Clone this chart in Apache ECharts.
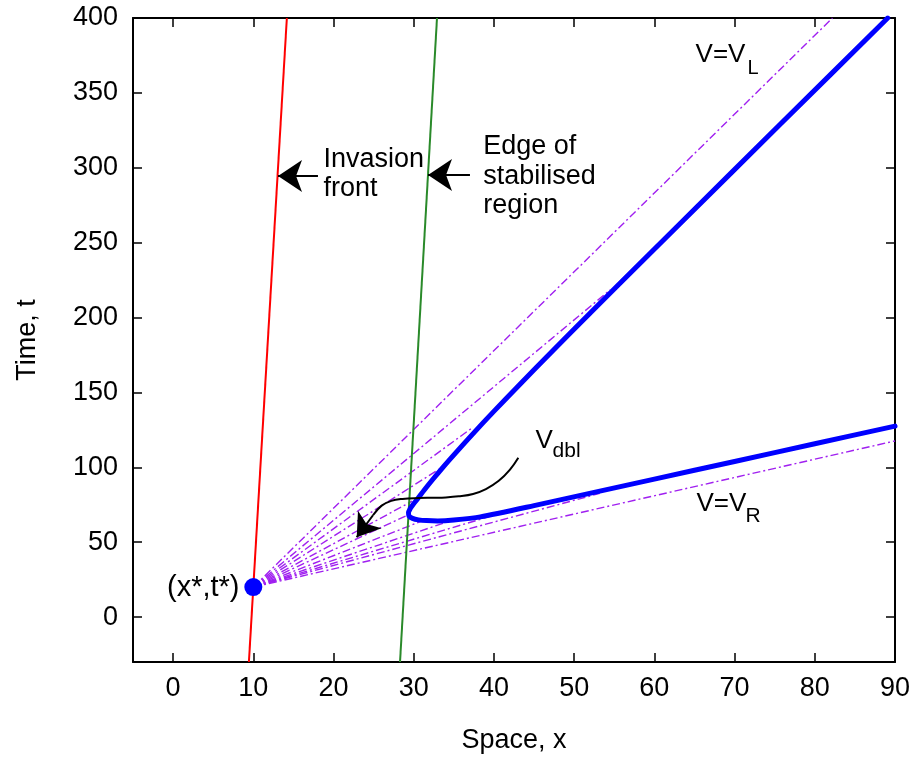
<!DOCTYPE html>
<html><head><meta charset="utf-8">
<script src="https://cdn.jsdelivr.net/npm/echarts@6/dist/echarts.min.js"></script>
<style>html,body{margin:0;padding:0;background:#fff}#c{width:918px;height:760px}</style>
</head><body><div id="c"></div>
<script>
// ---- data ----
const xTicks = [0, 10, 20, 30, 40, 50, 60, 70, 80, 90];
const tTicks = [0, 50, 100, 150, 200, 250, 300, 350, 400];
const starX = [10];
const starT = [20];
const invasionFrontX = [9.45, 14.18];
const invasionFrontT = [-30, 400];
const edgeX = [28.29, 32.9];
const edgeT = [-30, 400];
const curveX = [89.09, 75.88, 63.22, 55.18, 49.58, 44.97, 41.35, 38.69, 36.63, 34.95, 33.64, 32.39, 31.34, 30.49, 29.9, 29.55, 29.35, 29.4, 29.85, 30.6, 31.6, 33, 35, 38.3, 45, 53.2, 60, 70, 80, 90];
const curveT = [400, 330, 262.8, 220, 190, 165, 145, 130, 118, 108, 100, 92, 85, 79, 75, 72.3, 69.8, 67.6, 65.9, 64.9, 64.4, 64.2, 64.8, 66.9, 74.4, 84.1, 92.1, 103.9, 115.7, 127.5];
const fanEndX = [82.2, 54.5, 37.2, 34.0, 29.8, 29.4, 31.0, 35.0, 41.5, 53.2, 90];
const fanEndT = [400, 218.5, 126, 101.6, 77.4, 68.5, 64.1, 65.0, 70.4, 82.6, 117.6];
const vdblCurveX = [43.04, 42.0, 40.6, 39.0, 37.4, 35.6, 34.0, 32.3, 30.6, 28.6, 27.2, 26.0, 24.92];
const vdblCurveT = [106.4, 98.5, 91.0, 85.5, 82.2, 80.6, 79.9, 79.7, 79.5, 78.9, 77.6, 74.4, 68.0];
const vdblHeadX = [24.92, 22.89];
const vdblHeadT = [68.0, 53.3];
const frontArrowX = [18.06, 13.08];
const frontArrowT = [294.5, 294.5];
const edgeArrowX = [37.01, 31.78];
const edgeArrowT = [295.2, 295.2];

// ---- chart ----
const FONT = 'Liberation Sans, Arial, Helvetica, sans-serif';
const zip = (a, b) => a.map((v, i) => [v, b[i]]);
const chart = echarts.init(document.getElementById('c'), null, {renderer: 'canvas'});

const series = [];
fanEndX.forEach((x, i) => {
  series.push({
    type: 'line', data: [[starX[0], starT[0]], [x, fanEndT[i]]],
    symbol: 'none', silent: true, z: 1,
    lineStyle: {color: '#a020f0', width: 1.4, type: [8, 3, 2, 3]}
  });
});
series.push({type: 'line', data: zip(invasionFrontX, invasionFrontT), symbol: 'none', z: 2,
  lineStyle: {color: '#ff0000', width: 2}});
series.push({type: 'line', data: zip(edgeX, edgeT), symbol: 'none', z: 2,
  lineStyle: {color: '#2a8a2a', width: 2}});
series.push({type: 'line', data: zip(curveX, curveT), symbol: 'none', smooth: 0.25, z: 3,
  lineStyle: {color: '#0000ff', width: 5, join: 'round', cap: 'round'}});
series.push({type: 'line', data: zip(vdblCurveX, vdblCurveT), symbol: 'none', smooth: 0.4, z: 4,
  lineStyle: {color: '#000', width: 2}});
series.push({type: 'lines', coordinateSystem: 'cartesian2d', z: 4,
  symbol: ['none', 'arrow'], symbolSize: [15, 22],
  lineStyle: {color: '#000', width: 2, opacity: 1},
  data: [
    {coords: zip(vdblHeadX, vdblHeadT)},
    {coords: zip(frontArrowX, frontArrowT), symbolSize: [15, 24]},
    {coords: zip(edgeArrowX, edgeArrowT), symbolSize: [15, 24]}
  ]});
series.push({type: 'scatter', data: zip(starX, starT), symbolSize: 18, z: 5,
  itemStyle: {color: '#0000ff', opacity: 1}});

const lab = (x, t, text, pos, size, lh) => ({
  value: [x, t],
  label: {show: true, formatter: text, position: pos, distance: 0, fontSize: size,
    lineHeight: lh || Math.round(size * 1.1), color: '#000', fontFamily: FONT, opacity: 1}
});
series.push({type: 'scatter', symbolSize: 1, z: 6, silent: true,
  itemStyle: {color: 'rgba(0,0,0,0)'},
  data: [
    lab(18.68, 295.5, 'Invasion\nfront', 'right', 27, 29),
    lab(38.6, 294.4, 'Edge of\nstabilised\nregion', 'right', 27, 29.5),
    lab(65.07, 375.2, 'V=V', 'right', 26),
    lab(71.55, 366.6, 'L', 'right', 20),
    lab(45.12, 117.6, 'V', 'right', 26),
    lab(47.24, 110.9, 'dbl', 'right', 21),
    lab(65.19, 75.5, 'V=V', 'right', 26),
    lab(71.3, 67.1, 'R', 'right', 21),
    lab(8.34, 19.4, '(x*,t*)', 'left', 29)
  ]});

const tickCommon = {show: true, inside: true, length: 9, lineStyle: {color: '#000', width: 1.5}};
const axLine = {show: true, onZero: false, lineStyle: {color: '#000', width: 2}};

chart.setOption({
  animation: false,
  backgroundColor: '#fff',
  grid: {left: 133, right: 23, top: 18, bottom: 98, containLabel: false},
  xAxis: [
    {type: 'value', min: -5, max: 90, position: 'bottom',
     axisLine: axLine, splitLine: {show: false},
     axisTick: Object.assign({customValues: xTicks}, tickCommon),
     axisLabel: {customValues: xTicks, fontSize: 27, color: '#000', fontFamily: FONT, margin: 13},
     name: 'Space, x', nameLocation: 'middle', nameGap: 65,
     nameTextStyle: {fontSize: 27, color: '#000', fontFamily: FONT}},
    {type: 'value', min: -5, max: 90, position: 'top',
     axisLine: axLine, splitLine: {show: false},
     axisTick: Object.assign({customValues: xTicks}, tickCommon),
     axisLabel: {show: false}}
  ],
  yAxis: [
    {type: 'value', min: -30, max: 400, position: 'left',
     axisLine: axLine, splitLine: {show: false},
     axisTick: Object.assign({customValues: tTicks}, tickCommon),
     axisLabel: {customValues: tTicks, fontSize: 27, color: '#000', fontFamily: FONT, margin: 15},
     name: 'Time, t', nameLocation: 'middle', nameGap: 92, nameRotate: 90,
     nameTextStyle: {fontSize: 27, color: '#000', fontFamily: FONT}},
    {type: 'value', min: -30, max: 400, position: 'right',
     axisLine: axLine, splitLine: {show: false},
     axisTick: Object.assign({customValues: tTicks}, tickCommon),
     axisLabel: {show: false}}
  ],
  series: series
});
</script></body></html>
